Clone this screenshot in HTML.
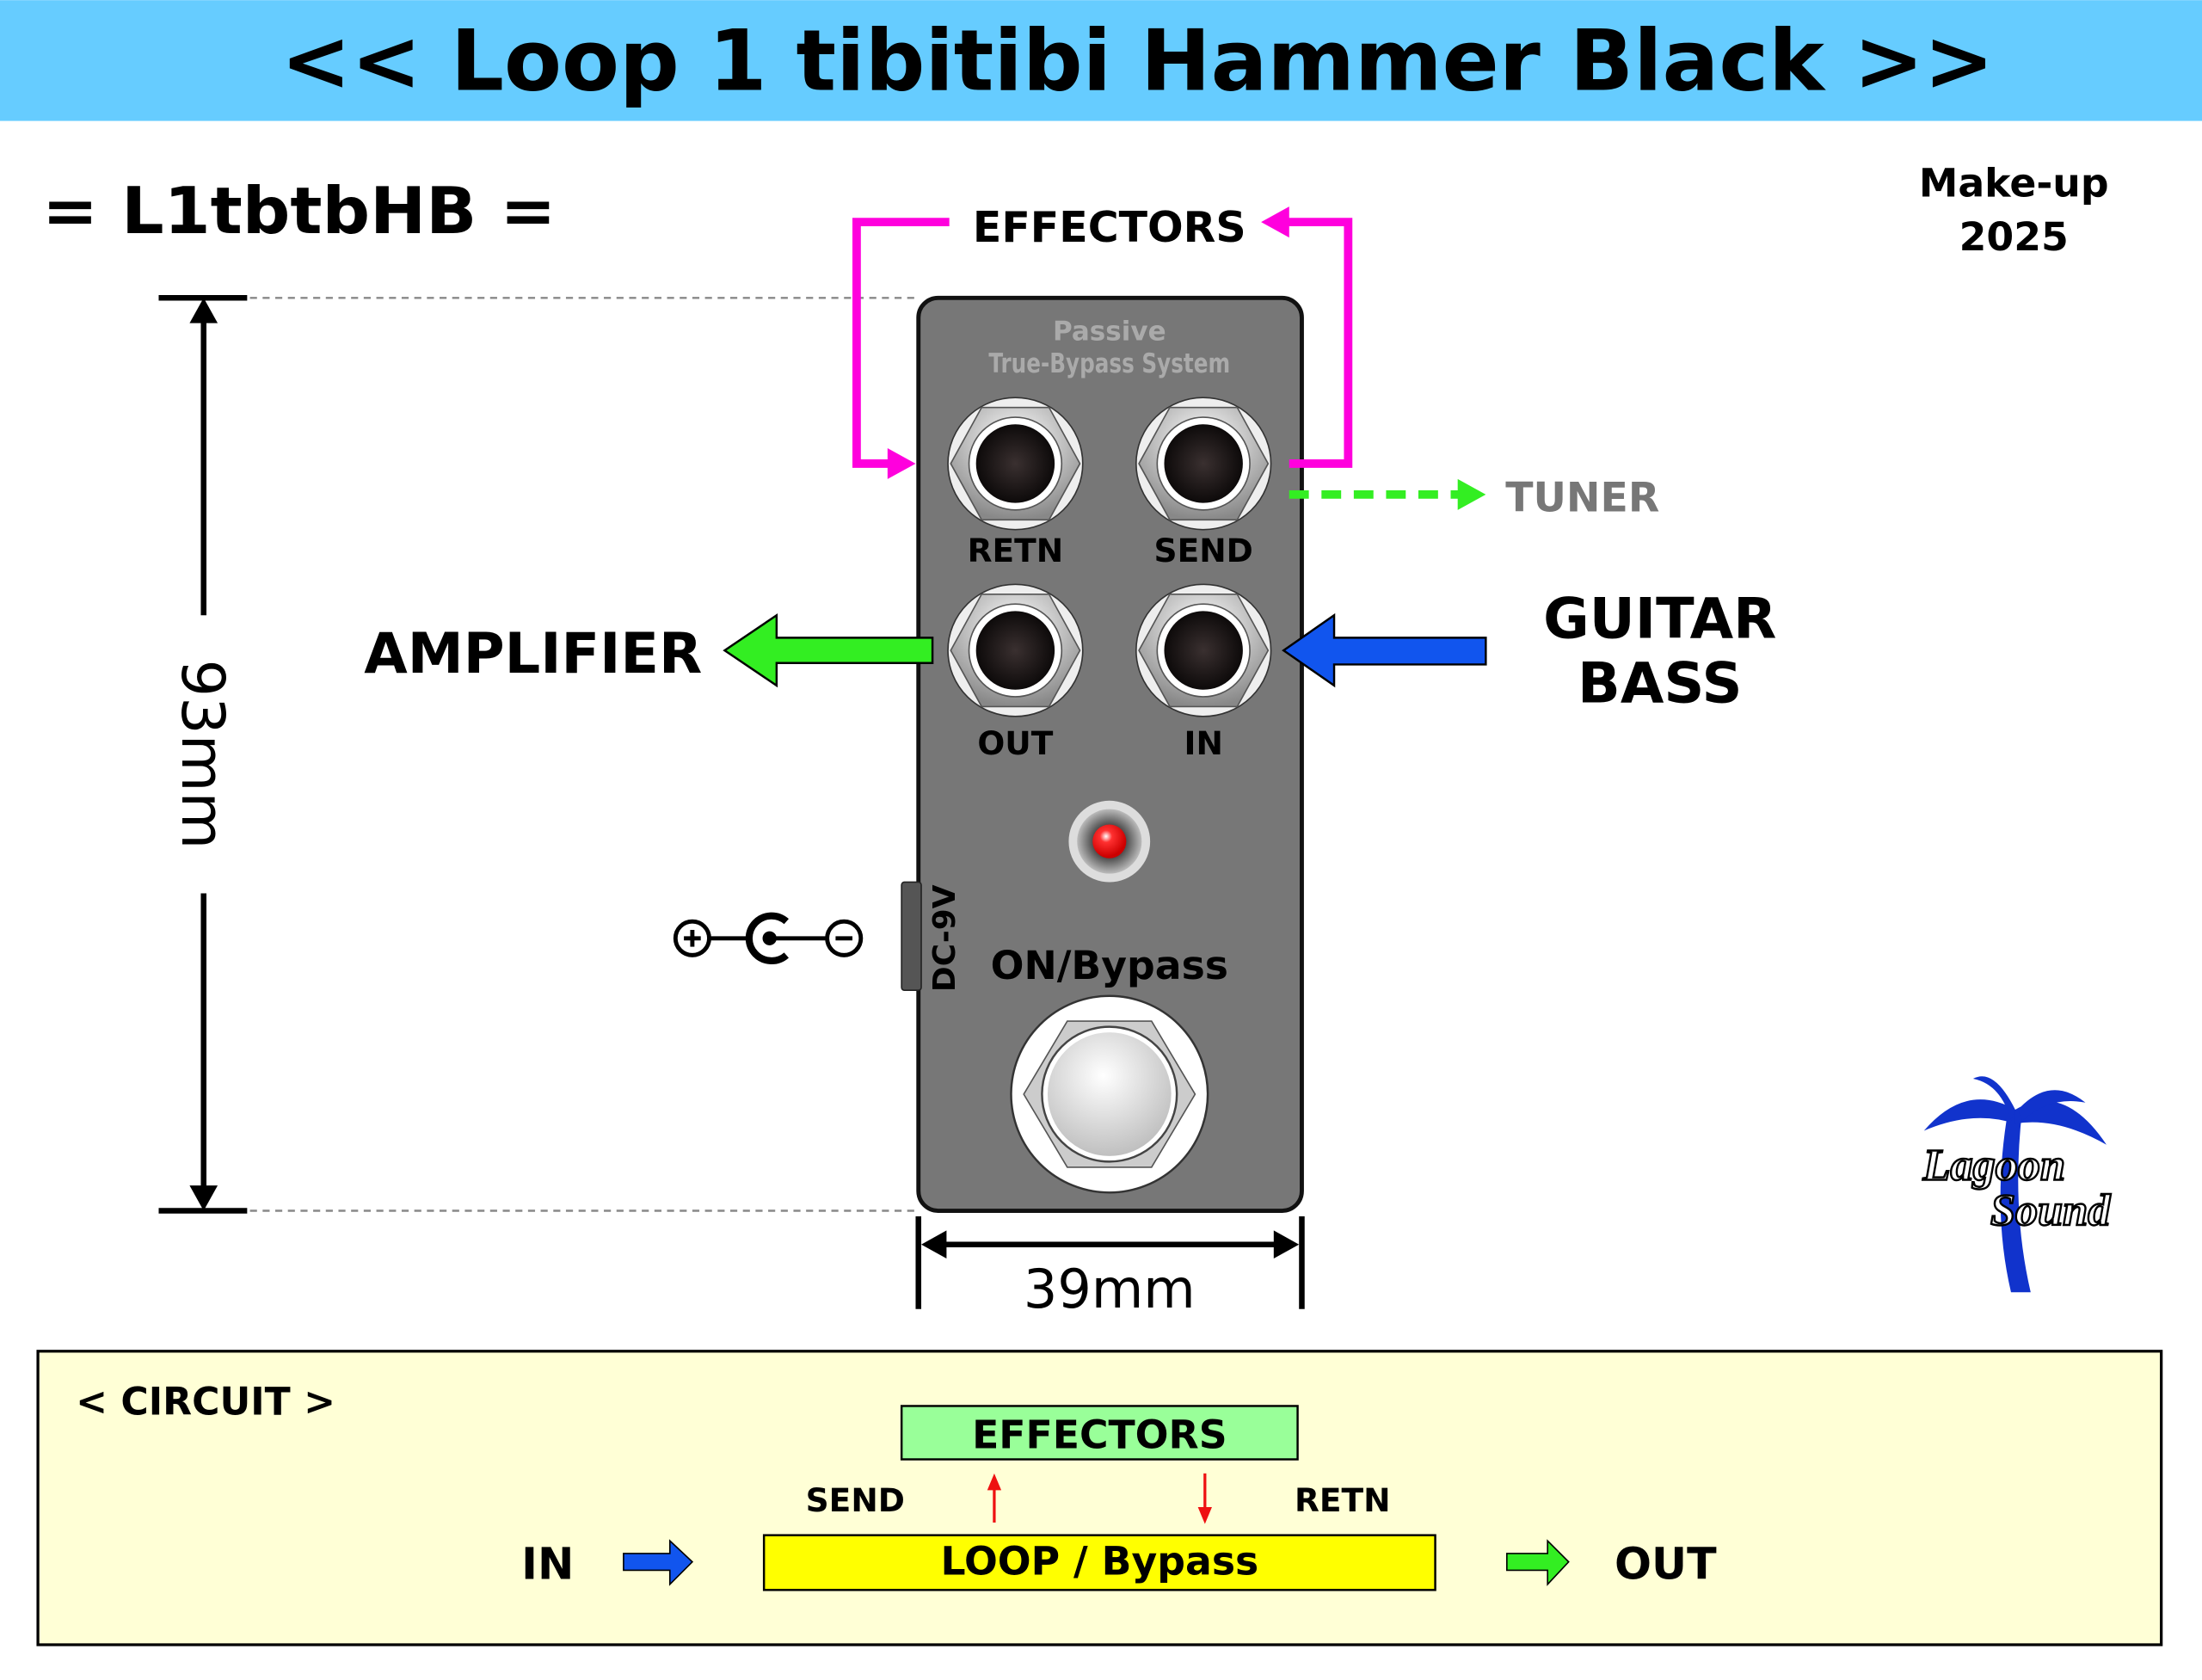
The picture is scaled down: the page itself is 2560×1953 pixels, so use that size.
<!DOCTYPE html>
<html><head><meta charset="utf-8"><style>html,body{margin:0;padding:0;background:#fff}svg{display:block}text{font-family:"DejaVu Sans","Liberation Sans",sans-serif;font-weight:bold}</style></head><body>
<svg width="2560" height="1953" viewBox="0 0 1568 1196" xmlns="http://www.w3.org/2000/svg">
<defs>
<radialGradient id="hx" cx="50%" cy="30%" r="70%"><stop offset="0" stop-color="#fff"/><stop offset="1" stop-color="#888"/></radialGradient>
<radialGradient id="hole" cx="50%" cy="50%" r="50%"><stop offset="0" stop-color="#3a3030"/><stop offset="1" stop-color="#0d0a0a"/></radialGradient>
<radialGradient id="led" cx="40%" cy="35%" r="60%"><stop offset="0" stop-color="#fff"/><stop offset="0.3" stop-color="#ff3030"/><stop offset="1" stop-color="#c00"/></radialGradient>
<radialGradient id="ledo" cx="50%" cy="50%" r="50%"><stop offset="0.4" stop-color="#333"/><stop offset="1" stop-color="#bbb"/></radialGradient>
<radialGradient id="fs" cx="45%" cy="35%" r="70%"><stop offset="0" stop-color="#fff"/><stop offset="1" stop-color="#bbb"/></radialGradient>
<g id="jack">
<ellipse cx="0" cy="0" rx="48" ry="47" fill="#eee" stroke="#333" stroke-width="1"/>
<polygon points="-46,0 -24,-40 24,-40 46,0 24,40 -24,40" fill="url(#hx)" stroke="#555" stroke-width="1"/>
<circle r="33" fill="#fff" stroke="#555" stroke-width="1"/>
<circle r="28" fill="url(#hole)"/>
</g>
</defs>
<rect x="0" y="0" width="1568" height="86" fill="#66ccff"/>
<text x="810" y="64" font-size="60" text-anchor="middle" textLength="1220" lengthAdjust="spacingAndGlyphs">&lt;&lt; Loop 1 tibitibi Hammer Black &gt;&gt;</text>
<text x="30" y="166" font-size="46" textLength="366" lengthAdjust="spacingAndGlyphs">= L1tbtbHB =</text>
<text x="1434" y="140" font-size="28" text-anchor="middle">Make-up</text>
<text x="1434" y="178" font-size="28" text-anchor="middle">2025</text>
<g stroke="#888" stroke-width="1.5" stroke-dasharray="5,4"><line x1="115" y1="212" x2="654" y2="212"/><line x1="115" y1="862" x2="654" y2="862"/></g>
<g stroke="#000" stroke-width="4"><line x1="113" y1="212" x2="176" y2="212"/><line x1="113" y1="862" x2="176" y2="862"/>
<line x1="145" y1="222" x2="145" y2="438"/><line x1="145" y1="636" x2="145" y2="852"/>
<line x1="654" y1="866" x2="654" y2="932"/><line x1="927" y1="866" x2="927" y2="932"/><line x1="664" y1="886" x2="917" y2="886"/></g>
<polygon points="145,212 135,230 155,230" fill="#000"/><polygon points="145,862 135,844 155,844" fill="#000"/>
<polygon points="656,886 674,876 674,896" fill="#000"/><polygon points="925,886 907,876 907,896" fill="#000"/>
<text x="145" y="537" font-size="42" style="font-weight:normal" text-anchor="middle" transform="rotate(90 145 537) translate(0 15)">93mm</text>
<text x="790" y="931" font-size="38" style="font-weight:normal" text-anchor="middle">39mm</text>
<rect x="654" y="212" width="273" height="650" rx="14" fill="#777" stroke="#111" stroke-width="3"/>
<text x="790" y="242" font-size="19" fill="#aaa" text-anchor="middle">Passive</text>
<text x="790" y="265" font-size="19" fill="#aaa" text-anchor="middle" textLength="172" lengthAdjust="spacingAndGlyphs">True-Bypass System</text>
<use href="#jack" x="723" y="330"/><use href="#jack" x="857" y="330"/><use href="#jack" x="723" y="463"/><use href="#jack" x="857" y="463"/>
<g font-size="23" text-anchor="middle"><text x="723" y="400">RETN</text><text x="857" y="400">SEND</text><text x="723" y="537">OUT</text><text x="857" y="537">IN</text></g>
<circle cx="790" cy="599" r="29" fill="#ddd"/><circle cx="790" cy="599" r="23" fill="url(#ledo)"/><circle cx="790" cy="599" r="12" fill="url(#led)"/>
<rect x="642" y="628" width="14" height="77" rx="2" fill="#555" stroke="#222"/>
<text x="0" y="0" font-size="22" text-anchor="middle" transform="translate(680 668) rotate(-90)">DC-9V</text>
<text x="790" y="697" font-size="28" text-anchor="middle">ON/Bypass</text>
<circle cx="790" cy="779" r="70" fill="#fff" stroke="#333" stroke-width="1.5"/>
<polygon points="729,779 760,727 820,727 851,779 820,831 760,831" fill="#ccc" stroke="#555"/>
<circle cx="790" cy="779" r="48" fill="#fff" stroke="#444" stroke-width="1.5"/><circle cx="790" cy="779" r="44" fill="url(#fs)"/>
<g stroke="#ff00dd" stroke-width="6" fill="none"><polyline points="676,158 610,158 610,330 636,330"/><polyline points="918,330 960,330 960,158 916,158"/></g>
<polygon points="652,330 632,319 632,341" fill="#ff00dd"/><polygon points="898,158 918,147 918,169" fill="#ff00dd"/>
<text x="790" y="172" font-size="30" text-anchor="middle">EFFECTORS</text>
<line x1="918" y1="352" x2="1040" y2="352" stroke="#33ee22" stroke-width="6" stroke-dasharray="14,9"/>
<polygon points="1058,352 1038,341 1038,363" fill="#33ee22"/>
<text x="1072" y="364" font-size="29" fill="#777">TUNER</text>
<polygon points="664,454 553,454 553,438 516,463 553,488 553,472 664,472" fill="#33ee22" stroke="#000" stroke-width="1.5"/>
<text x="500" y="479" font-size="40" text-anchor="end">AMPLIFIER</text>
<polygon points="1058,454 950,454 950,438 914,463 950,488 950,473 1058,473" fill="#1155ee" stroke="#000" stroke-width="1.5"/>
<text x="1182" y="454" font-size="40" text-anchor="middle">GUITAR</text>
<text x="1182" y="500" font-size="40" text-anchor="middle">BASS</text>
<g stroke="#000" stroke-width="3" fill="none"><circle cx="493" cy="668" r="12"/><line x1="487" y1="668" x2="499" y2="668"/><line x1="493" y1="662" x2="493" y2="674"/>
<line x1="505" y1="668" x2="535" y2="668"/><path d="M560,656 A16,16 0 1 0 560,680" stroke-width="5"/><line x1="548" y1="668" x2="589" y2="668"/>
<circle cx="601" cy="668" r="12"/><line x1="595" y1="668" x2="607" y2="668"/></g><circle cx="548" cy="668" r="5" fill="#000"/>
<g fill="#1133cc"><path d="M1432,920 Q1418,860 1430,790 L1440,790 Q1432,860 1446,920 Z"/>
<path d="M1435,790 Q1400,770 1370,805 Q1405,790 1435,800 Z"/><path d="M1435,790 Q1470,770 1500,815 Q1465,795 1435,800 Z"/>
<path d="M1435,790 Q1420,760 1405,768 Q1425,772 1432,798 Z"/><path d="M1437,790 Q1460,765 1485,785 Q1460,780 1440,798 Z"/></g>
<text x="1420" y="840" font-size="32" font-style="italic" text-anchor="middle" fill="#fff" stroke="#000" stroke-width="1.5" style="font-family:'Liberation Serif',serif">Lagoon</text>
<text x="1460" y="872" font-size="32" font-style="italic" text-anchor="middle" fill="#fff" stroke="#000" stroke-width="1.5" style="font-family:'Liberation Serif',serif">Sound</text>
<rect x="27" y="962" width="1512" height="209" fill="#ffffd6" stroke="#000" stroke-width="2"/>
<text x="54" y="1007" font-size="27">&lt; CIRCUIT &gt;</text>
<rect x="642" y="1001" width="282" height="38" fill="#99ff99" stroke="#000" stroke-width="1.5"/>
<text x="783" y="1031" font-size="28" text-anchor="middle">EFFECTORS</text>
<text x="609" y="1076" font-size="23" text-anchor="middle">SEND</text><text x="956" y="1076" font-size="23" text-anchor="middle">RETN</text>
<g stroke="#ee1111" stroke-width="2"><line x1="708" y1="1084" x2="708" y2="1058"/><line x1="858" y1="1049" x2="858" y2="1076"/></g>
<polygon points="708,1049 703,1061 713,1061" fill="#ee1111"/><polygon points="858,1085 853,1073 863,1073" fill="#ee1111"/>
<rect x="544" y="1093" width="478" height="39" fill="#ffff00" stroke="#000" stroke-width="1.5"/>
<text x="783" y="1121" font-size="28" text-anchor="middle">LOOP / Bypass</text>
<text x="390" y="1124" font-size="31" text-anchor="middle">IN</text>
<polygon points="444,1106 477,1106 477,1097 493,1112 477,1128 477,1118 444,1118" fill="#1155ee" stroke="#000" stroke-width="1"/>
<polygon points="1073,1106 1102,1106 1102,1097 1117,1112 1102,1128 1102,1118 1073,1118" fill="#33ee22" stroke="#000" stroke-width="1"/>
<text x="1186" y="1124" font-size="31" text-anchor="middle">OUT</text>
</svg>
</body></html>
